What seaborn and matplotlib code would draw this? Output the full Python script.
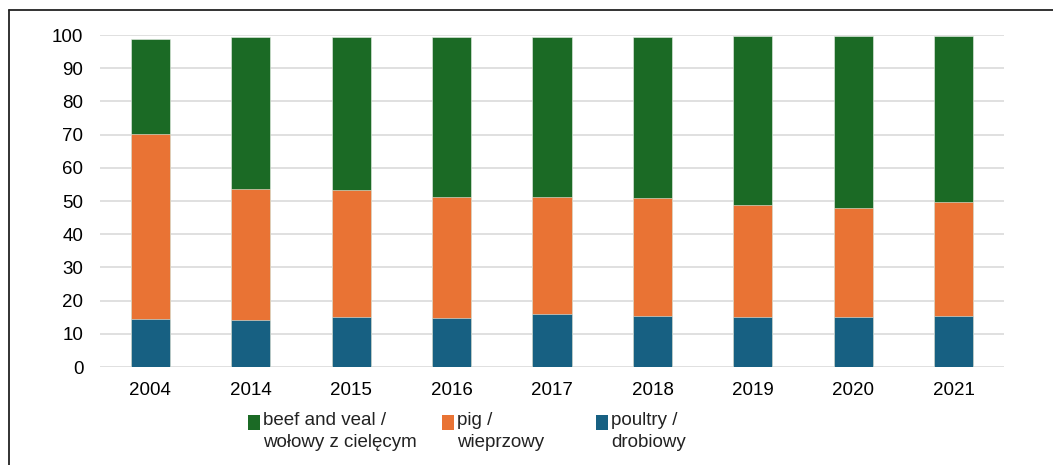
import matplotlib.pyplot as plt
import seaborn as sns
import pandas as pd
import numpy as np
from matplotlib.lines import Line2D
from matplotlib.patches import Rectangle

sns.set_theme(style="white")
plt.rcParams['font.family'] = ['Liberation Sans', 'DejaVu Sans']

# Dane (udział w %)
lata = ['2004', '2014', '2015', '2016', '2017', '2018', '2019', '2020', '2021']
drobiowy = [14.5, 14.2, 15.0, 14.7, 15.9, 15.4, 15.2, 15.0, 15.4]
wieprzowy = [55.7, 39.5, 38.3, 36.4, 35.3, 35.6, 33.7, 32.8, 34.4]
wolowy = [28.6, 45.7, 46.1, 48.3, 48.3, 48.5, 50.8, 51.9, 49.9]

etykiety = ['beef and veal /\nwołowy z cielęcym', 'pig /\nwieprzowy', 'poultry /\ndrobiowy']
kolory = ['#1b6a25', '#e97334', '#176082']

df = pd.DataFrame({'rok': lata, 'drobiowy': drobiowy,
                   'wieprzowy': wieprzowy, 'wolowy': wolowy})
df['do_wieprzowy'] = df['drobiowy'] + df['wieprzowy']
df['do_wolowy'] = df['do_wieprzowy'] + df['wolowy']

W, H = 1053, 465
fig = plt.figure(figsize=(W / 100, H / 100), dpi=100)
ax = fig.add_axes([100 / W, 1 - 367 / H, 904 / W, 332 / H])

# Słupki skumulowane: najpierw całość, potem niższe warstwy
for kol, kolor in zip(['do_wolowy', 'do_wieprzowy', 'drobiowy'], kolory):
    sns.barplot(data=df, x='rok', y=kol, color=kolor, width=0.39,
                saturation=1, edgecolor='#e8f0e8', linewidth=0.4, ax=ax, zorder=3)

ax.set_ylim(0, 100)
ax.set_xlim(-0.5, 8.5)
ax.set_yticks(np.arange(0, 101, 10))
ax.yaxis.grid(True, color='#e0e0e0', linewidth=1.4, zorder=0)
ax.set_axisbelow(True)
ax.set_xlabel('')
ax.set_ylabel('')
for s in ax.spines.values():
    s.set_visible(False)
ax.tick_params(axis='both', length=0, labelsize=13.5, colors='black')
ax.tick_params(axis='y', pad=12)
ax.tick_params(axis='x', pad=11)

# Legenda rysowana ręcznie (kwadrat wyrównany do pierwszej linii)
legenda_x = [248, 442, 596]
for x0, kolor, tekst in zip(legenda_x, kolory, etykiety):
    fig.add_artist(Rectangle((x0 / W, 1 - 430 / H), 12 / W, 15 / H,
                             facecolor=kolor, edgecolor='none', transform=fig.transFigure))
    fig.text((x0 + 15) / W, 1 - 412 / H, tekst, ha='left', va='top',
             fontsize=13.5, color='#222222', linespacing=1.35)

# Ramka wykresu (lewa i górna krawędź)
fig.add_artist(Line2D([9 / W, 9 / W], [0, 1 - 10 / H], color='#222222', linewidth=1.3))
fig.add_artist(Line2D([9 / W, 1], [1 - 10 / H, 1 - 10 / H], color='#222222', linewidth=1.3))

plt.savefig('out.png', dpi=100)
